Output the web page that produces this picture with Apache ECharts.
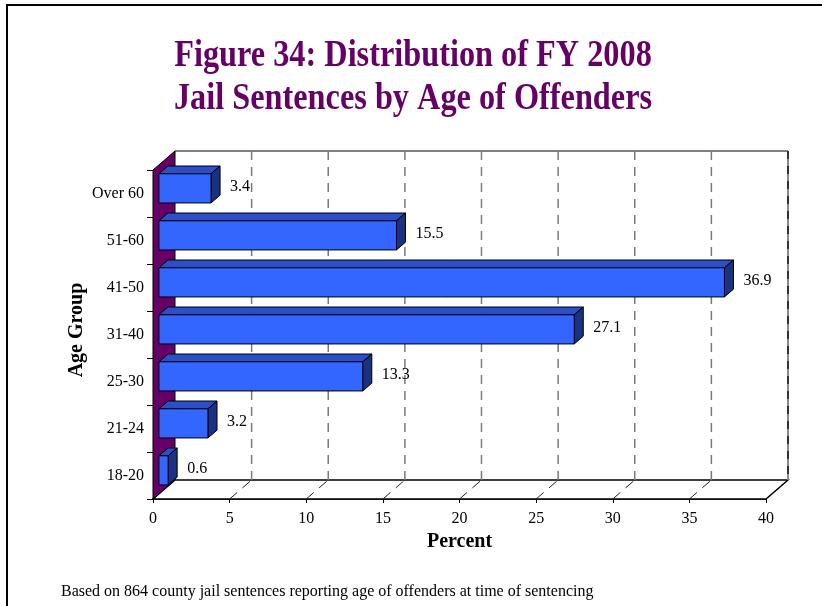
<!DOCTYPE html>
<html lang="en">
<head>
<meta charset="UTF-8">
<title>FY 2008 jail sentences by age</title>
<script src="https://cdn.jsdelivr.net/npm/echarts@6/dist/echarts.min.js"></script>
<style>
  html, body { margin: 0; padding: 0; background: #fff; }
  #main { width: 822px; height: 606px; }
</style>
</head>
<body>
<div id="main"></div>
<script>
// data
var ageGroups = ['18-20', '21-24', '25-30', '31-40', '41-50', '51-60', 'Over 60'];
var percents = [0.6, 3.2, 13.3, 27.1, 36.9, 15.5, 3.4];
var percentTicks = [0, 5, 10, 15, 20, 25, 30, 35, 40];

var serif = '"Liberation Serif", "Times New Roman", serif';

// 3d look: depth of the box and where the bars sit inside it
var DX = 22, DY = -19;
var F1 = 0.27, F2 = 0.68;

var barData = percents.map(function (v, i) { return [v, i]; });
var tickData = percentTicks.map(function (t) { return [t, 0]; });

function renderWalls(params, api) {
  var cs = params.coordSys;
  var L = cs.x, R = cs.x + cs.width, T = cs.y, B = cs.y + cs.height;
  return {
    type: 'group',
    children: [
      { type: 'polygon', shape: { points: [[L, B], [R, B], [R + DX, B + DY], [L + DX, B + DY]] },
        style: { fill: '#fff', stroke: '#000', lineWidth: 1.5 } },
      { type: 'line', shape: { x1: L + DX, y1: T + DY, x2: R + DX, y2: T + DY },
        style: { stroke: '#808080', lineWidth: 2 } },
      { type: 'line', shape: { x1: R + DX, y1: T + DY, x2: R + DX, y2: B + DY },
        style: { stroke: '#8a8a8a', lineWidth: 2 } },
      { type: 'line', shape: { x1: R + DX, y1: T + DY, x2: R + DX, y2: B + DY },
        style: { stroke: '#333', lineWidth: 2, lineDash: [8, 7] } },
      { type: 'polygon', shape: { points: [[L, T], [L + DX, T + DY], [L + DX, B + DY], [L, B]] },
        style: { fill: '#660066', stroke: '#000', lineWidth: 1 } }
    ]
  };
}

function renderGrid(params, api) {
  var t = api.value(0);
  if (t <= 0 || t >= 40) return;
  var cs = params.coordSys;
  var x = api.coord([t, 0])[0];
  var T = cs.y, B = cs.y + cs.height;
  return {
    type: 'group',
    children: [
      { type: 'line', shape: { x1: x + DX, y1: B + DY, x2: x + DX, y2: T + DY },
        style: { stroke: '#7a7a7a', lineWidth: 1.5, lineDash: [9, 7] } },
      { type: 'line', shape: { x1: x, y1: B, x2: x + DX, y2: B + DY },
        style: { stroke: '#222', lineWidth: 1, lineDash: [10, 7] } }
    ]
  };
}

function renderBar(params, api) {
  var val = api.value(0), cat = api.value(1);
  var p0 = api.coord([0, cat]);
  var p1 = api.coord([val, cat]);
  var band = api.size([0, 1])[1];
  var h = band * 0.62;
  var ox = DX * F1, oy = DY * F1;
  var dx = DX * (F2 - F1), dy = DY * (F2 - F1);
  var x0 = p0[0] + ox, x1 = p1[0] + ox;
  var yc = p0[1] + oy, yt = yc - h / 2, yb = yc + h / 2;
  return {
    type: 'group',
    children: [
      { type: 'polygon', shape: { points: [[x0, yt], [x1, yt], [x1 + dx, yt + dy], [x0 + dx, yt + dy]] },
        style: { fill: '#2b4fc8', stroke: '#000', lineWidth: 1 } },
      { type: 'polygon', shape: { points: [[x1, yt], [x1 + dx, yt + dy], [x1 + dx, yb + dy], [x1, yb]] },
        style: { fill: '#1a3282', stroke: '#000', lineWidth: 1 } },
      { type: 'rect', shape: { x: x0, y: yt, width: x1 - x0, height: h },
        style: { fill: '#3366ff', stroke: '#000', lineWidth: 1 } },
      { type: 'text', style: { text: val.toFixed(1), x: x1 + 19, y: yc - 2, textVerticalAlign: 'middle',
        font: '16px ' + serif, fill: '#000' } }
    ]
  };
}

var myChart = echarts.init(document.getElementById('main'));

myChart.setOption({
  animation: false,
  grid: { left: 153, right: 56, top: 170, bottom: 107 },
  xAxis: {
    type: 'value', min: 0, max: 40, interval: 5,
    name: 'Percent', nameLocation: 'middle', nameGap: 33,
    nameTextStyle: { fontFamily: serif, fontWeight: 'bold', fontSize: 20, color: '#000' },
    axisLine: { show: true, lineStyle: { color: '#000', width: 1.5 } },
    axisTick: { show: true, length: 4, lineStyle: { color: '#000' } },
    axisLabel: { fontFamily: serif, fontSize: 16, color: '#000', margin: 12 },
    splitLine: { show: false }
  },
  yAxis: {
    type: 'category', data: ageGroups,
    axisLine: { show: true, lineStyle: { color: '#000', width: 1 } },
    axisTick: { show: true, length: 6, alignWithLabel: false, lineStyle: { color: '#000' } },
    axisLabel: { fontFamily: serif, fontSize: 16, color: '#000', margin: 9 },
    splitLine: { show: false }
  },
  graphic: [
    { type: 'rect', shape: { x: 7, y: 5, width: 900, height: 700 },
      style: { fill: 'none', stroke: '#000', lineWidth: 2 }, z: 0 },
    { type: 'text', x: 413, y: 56, scaleX: 0.85,
      style: { text: 'Figure 34: Distribution of FY 2008', textAlign: 'center', textVerticalAlign: 'middle',
        font: 'bold 38px ' + serif, fill: '#660066' } },
    { type: 'text', x: 413, y: 99, scaleX: 0.85,
      style: { text: 'Jail Sentences by Age of Offenders', textAlign: 'center', textVerticalAlign: 'middle',
        font: 'bold 38px ' + serif, fill: '#660066' } },
    { type: 'text', x: 77, y: 330, rotation: Math.PI / 2,
      style: { text: 'Age Group', textAlign: 'center', textVerticalAlign: 'middle',
        font: 'bold 20px ' + serif, fill: '#000' } },
    { type: 'text', x: 61, y: 592,
      style: { text: 'Based on 864 county jail sentences reporting age of offenders at time of sentencing',
        textVerticalAlign: 'middle', font: '16px ' + serif, fill: '#000' } }
  ],
  series: [
    { type: 'custom', name: 'walls', data: [[0, 0]], renderItem: renderWalls, z: 1, silent: true },
    { type: 'custom', name: 'grid', data: tickData, renderItem: renderGrid, z: 2, silent: true },
    { type: 'custom', name: 'Percent', data: barData, renderItem: renderBar, z: 3,
      encode: { x: 0, y: 1 } }
  ]
});
</script>
</body>
</html>
